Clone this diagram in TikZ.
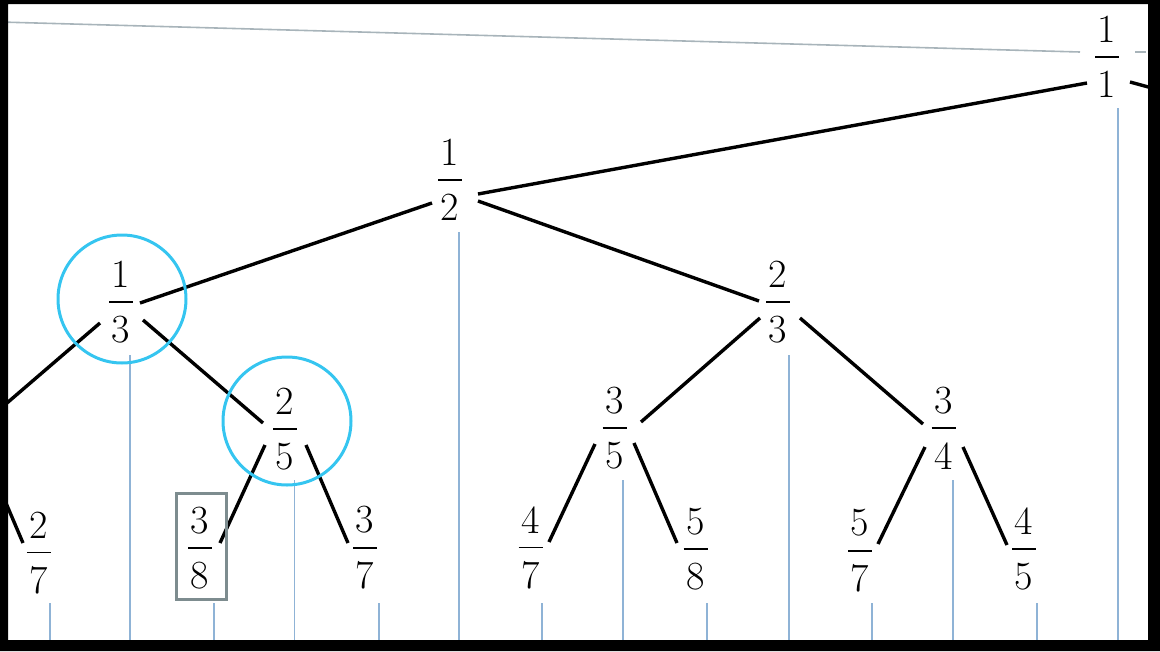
\documentclass[tikz,border=0pt]{standalone}
\usetikzlibrary{calc}

\definecolor{edgegray}{HTML}{A8B4BA}
\definecolor{stick}{HTML}{8FB3D6}
\definecolor{ring}{HTML}{35C5F0}
\definecolor{boxgray}{HTML}{7D8C8F}

% stacked fraction: numerator, bar, denominator; the bar sits at mid-height
\newcommand\frc[2]{\vbox{\offinterlineskip
  \hbox to 24pt{\vrule height26pt width0pt\hss#1\hss}%
  \kern13.4pt
  \hrule height1.6pt width24pt
  \kern13.2pt
  \hbox to 24pt{\vrule height26pt width0pt\hss#2\hss}}}

\tikzset{
  fr/.style={inner sep=0pt, font=\fontsize{40}{48}\selectfont},
  tree/.style={line width=3.4pt, black},
  guide/.style={line width=1.6pt, stick},
  topline/.style={line width=1.6pt, edgegray},
  mark ring/.style={line width=3pt, ring},
  mark box/.style={line width=3pt, boxgray},
}

\begin{document}
\begin{tikzpicture}[x=1pt, y=-1pt]
\useasboundingbox (0,0) rectangle (1160,651);

% fractions (each node is centred on its fraction bar)
\node[fr] (n11) at (1107,57)   {\frc{1}{1}};
\node[fr] (n12) at (450,180)   {\frc{1}{2}};
\node[fr] (n13) at (121,302)   {\frc{1}{3}};
\node[fr] (n23) at (778,302)   {\frc{2}{3}};
\node[fr] (n25) at (285,429)   {\frc{2}{5}};
\node[fr] (n35) at (614.5,428) {\frc{3}{5}};
\node[fr] (n34) at (943.5,428) {\frc{3}{4}};
\node[fr] (n27) at (39,553)    {\frc{2}{7}};
\node[fr] (n38) at (200,548)   {\frc{3}{8}};
\node[fr] (n37) at (365,548)   {\frc{3}{7}};
\node[fr] (n47) at (530.5,548) {\frc{4}{7}};
\node[fr] (n58) at (695.5,549) {\frc{5}{8}};
\node[fr] (n57) at (860,551)   {\frc{5}{7}};
\node[fr] (n45) at (1024,549)  {\frc{4}{5}};

% thin grey line running in to the root
\draw[topline] ($(n11)+(-1107,-35)$) -- ($(n11)+(-27,-5)$);
\draw[topline] ($(n11)+(28,-5)$) -- ($(n11)+(39,-5)$);

% vertical guides below each fraction, down to the frame
\foreach \n/\dx/\dy/\ey in {n11/11/51/587, n12/9/52/464, n13/9/53/342,
                            n23/11/53/342, n25/9.5/51/215, n35/8.5/52/216,
                            n34/9.5/52/216, n27/11/50/91, n38/14/55/96,
                            n37/14/55/96, n47/11.5/55/96, n58/11.5/54/95,
                            n57/12/52/93, n45/13/54/95}
  \draw[guide] ($(\n)+(\dx,\dy)$) -- ($(\n)+(\dx,\ey)$);

% tree edges
\draw[tree] ($(n11)+(-20,26)$) -- ($(n12)+(28,14)$);
\draw[tree] ($(n11)+(23,25)$) -- ($(n11)+(45,31)$);
\draw[tree] ($(n12)+(-18,23)$) -- ($(n13)+(19,1)$);
\draw[tree] ($(n12)+(28,21)$) -- ($(n23)+(-19,-1)$);
\draw[tree] ($(n13)+(-21,21)$) -- ($(n13)+(-121,107)$);
\draw[tree] ($(n13)+(22,18)$) -- ($(n25)+(-22,-6)$);
\draw[tree] ($(n25)+(-20,16)$) -- ($(n38)+(20,-5)$);
\draw[tree] ($(n25)+(21,16)$) -- ($(n37)+(-17,-5)$);
\draw[tree] ($(n27)+(-39,-64)$) -- ($(n27)+(-16,-10)$);
\draw[tree] ($(n23)+(-18,16)$) -- ($(n35)+(26.5,-6)$);
\draw[tree] ($(n23)+(22,16)$) -- ($(n34)+(-20.5,-4)$);
\draw[tree] ($(n35)+(-19.5,16)$) -- ($(n47)+(18.5,-6)$);
\draw[tree] ($(n35)+(19.5,15)$) -- ($(n58)+(-18.5,-6)$);
\draw[tree] ($(n34)+(-18.5,19)$) -- ($(n57)+(18,-7)$);
\draw[tree] ($(n34)+(19.5,19)$) -- ($(n45)+(-17,-4)$);

% highlights
\draw[mark ring] ($(n13)+(1,-3)$) circle[radius=64pt];
\draw[mark ring] ($(n25)+(2,-8)$) circle[radius=64pt];
\draw[mark box] ($(n38)+(-24,-55)$) rectangle ($(n38)+(26,51)$);

% black frame
\fill[black, even odd rule] (0,0) rectangle (1160,651) (8,4) rectangle (1148,640);
\end{tikzpicture}
\end{document}
